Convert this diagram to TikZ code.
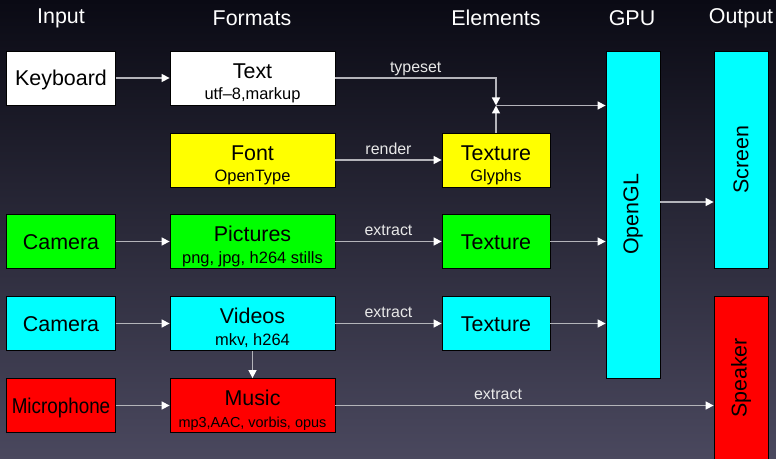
\documentclass[tikz,border=0pt]{standalone}
\usepackage{fontspec}
\setmainfont{Liberation Sans}
\usetikzlibrary{arrows.meta}

\definecolor{bgtop}{RGB}{10,10,20}
\definecolor{bgbot}{RGB}{74,72,94}
\definecolor{linegray}{RGB}{180,180,186}
\definecolor{labelgray}{RGB}{232,232,232}
\definecolor{boxcyan}{RGB}{0,255,255}
\definecolor{boxgreen}{RGB}{0,255,0}
\definecolor{boxyellow}{RGB}{255,255,0}
\definecolor{boxred}{RGB}{255,0,0}

\newcommand{\bigtxt}{\fontsize{21.5}{24}\selectfont}
\newcommand{\smalltxt}{\fontsize{16.5}{19}\selectfont}

\tikzset{
  box/.style={draw=black, line width=0.8bp, inner sep=0pt, minimum height=54bp,
    font=\bigtxt, align=center, text=black},
  oneline/.style={text height=16bp, text depth=0bp},
  twoline/.style={text height=44bp, text depth=0bp},
  inbox/.style={box, oneline, minimum width=109bp},
  fmtbox/.style={box, twoline, minimum width=165bp},
  elbox/.style={box, oneline, minimum width=108bp},
  tallbox/.style={box, minimum width=54bp},
  flow/.style={draw=linegray, line width=1.5bp,
    -{Triangle[length=8bp,width=8bp,color=white]}},
  lbl/.style={font=\fontsize{16}{18}\selectfont, text=labelgray, above,
    inner sep=5bp, text depth=0pt},
  head/.style={font=\bigtxt, text=white}
}

\begin{document}
\begin{tikzpicture}[x=1bp,y=-1bp]
  \shade[top color=bgtop, bottom color=bgbot] (0,0) rectangle (776,459);
  \useasboundingbox (0,0) rectangle (776,459);

  % column heads
  \node[head] (hIn)  at (61,18)  {Input};
  \node[head] (hFmt) at (252,18) {Formats};
  \node[head] (hEl)  at (496,18) {Elements};
  \node[head] (hGPU) at (632,18) {GPU};
  \node[head] (hOut) at (741,18) {Output};

  % input
  \node[inbox,fill=white]     (keyb) at (61,78)    {Keyboard};
  \node[inbox,fill=boxgreen]  (cam1) at (61,241.5) {Camera};
  \node[inbox,fill=boxcyan]   (cam2) at (61,323.5) {Camera};
  \node[inbox,fill=boxred]    (mic)  at (61,405.5) {\scalebox{0.88}[1]{Microphone}};

  % formats
  \node[fmtbox,fill=white]     (text)  at (252.5,78)    {Text\\[-2bp]{\smalltxt utf--8,markup}};
  \node[fmtbox,fill=boxyellow] (font)  at (252.5,160)   {Font\\[-2bp]{\smalltxt OpenType}};
  \node[fmtbox,fill=boxgreen]  (pics)  at (252.5,241.5) {Pictures\\[-2bp]{\smalltxt png, jpg, h264 stills}};
  \node[fmtbox,fill=boxcyan]   (vids)  at (252.5,323.5) {Videos\\[-2bp]{\smalltxt mkv, h264}};
  \node[fmtbox,fill=boxred]    (music) at (252.5,405.5) {Music\\[-2bp]{\fontsize{14.5}{17}\selectfont mp3,AAC, vorbis, opus}};

  % elements
  \node[elbox,twoline,fill=boxyellow] (texG) at (496,160)   {Texture\\[-2bp]{\smalltxt Glyphs}};
  \node[elbox,fill=boxgreen]          (texP) at (496,241.5) {Texture};
  \node[elbox,fill=boxcyan]           (texV) at (496,323.5) {Texture};

  % gpu and output
  \node[tallbox,fill=boxcyan,minimum height=327bp] (gl)     at (633,214.5) {\rotatebox{90}{OpenGL}};
  \node[tallbox,fill=boxcyan,minimum height=217bp] (screen) at (741,159.5) {\rotatebox{90}{Screen}};
  \node[tallbox,fill=boxred,minimum height=164bp]  (spk)    at (741,378)   {\rotatebox{90}{Speaker}};

  \coordinate (join) at (496,105.5);

  % connectors
  \draw[flow] (keyb) -- (text);
  \draw[flow] (cam1) -- (pics);
  \draw[flow] (cam2) -- (vids);
  \draw[flow] (mic) -- (music);
  \draw[flow] (text.east) -| node[lbl,pos=0.25] {typeset} (join);
  \draw[flow] (texG.north) -- (join);
  \draw[flow] (join) -- (join -| gl.west);
  \draw[flow] (font) -- node[lbl] {render} (texG);
  \draw[flow] (pics) -- node[lbl] {extract} (texP);
  \draw[flow] (vids) -- node[lbl] {extract} (texV);
  \draw[flow] (vids) -- (music);
  \draw[flow] (texP) -- (texP -| gl.west);
  \draw[flow] (texV) -- (texV -| gl.west);
  \draw[flow] (music) -- node[lbl,pos=0.43] {extract} (music -| spk.west);
  \draw[flow] ([yshift=12.5bp]gl.east) -- ([yshift=12.5bp]gl.east -| screen.west);
\end{tikzpicture}
\end{document}
